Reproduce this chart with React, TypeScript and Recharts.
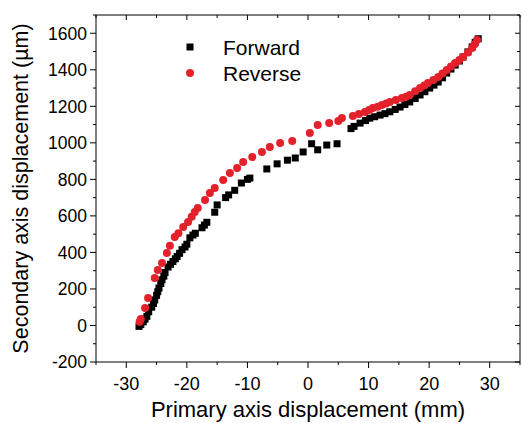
import { ScatterChart, Scatter, XAxis, YAxis, Legend, Label } from "recharts";

// Forward / reverse sweep, secondary axis vs primary axis displacement
const forwardX = [
  -27.9, -27.6, -27.2, -26.9, -26.6, -26.3, -25.8, -25.5, -25.3, -25.0, -24.8, -24.6, -24.3, -24.1,
  -23.8, -23.6, -23.1, -22.7, -22.3, -21.9, -21.6, -21.2, -20.8, -20.3, -20.0, -19.5, -19.0, -18.6,
  -17.5, -17.1, -16.7, -15.4, -15.0, -13.6, -13.1, -12.1, -11.0, -10.0, -9.6, -6.8, -5.1, -3.4,
  -2.1, -0.8, 0.6, 1.6, 3.1, 4.8, 7.1, 7.6, 8.6, 9.5, 10.2, 11.0, 11.9, 12.7, 13.5, 14.4, 15.2,
  16.0, 16.8, 17.7, 18.5, 19.3, 20.1, 20.8, 21.5, 22.2, 22.9, 23.6, 24.3, 25.0, 25.6, 26.4, 27.1,
  27.6, 28.1,
];
const forwardY = [
  -5, 5, 20, 35, 50, 75, 100, 120, 140, 165, 185, 205, 230, 250,
  270, 290, 320, 335, 350, 365, 378, 395, 415, 430, 445, 480, 495, 505,
  535, 550, 565, 620, 660, 700, 715, 740, 780, 800, 807, 857, 885, 905,
  917, 950, 995, 962, 988, 995, 1078, 1090, 1108, 1122, 1135, 1143, 1152, 1160, 1170, 1183, 1196,
  1210, 1224, 1243, 1262, 1280, 1300, 1316, 1333, 1356, 1382, 1404, 1426, 1448, 1470, 1498, 1525,
  1550, 1570,
];

const reverseX = [
  -27.8, -27.6, -26.9, -26.4, -25.3, -24.8, -24.1, -23.3, -22.8, -22.0, -21.4, -20.6, -19.8, -19.2,
  -18.7, -18.2, -17.0, -16.2, -15.4, -14.0, -12.9, -11.7, -10.7, -9.2, -7.6, -6.3, -4.6, -2.6,
  0.3, 1.6, 3.5, 5.0, 5.6, 7.4, 8.4, 9.4, 10.1, 10.7, 11.5, 12.2, 12.9, 13.5, 14.5, 15.5, 16.2,
  16.8, 17.7, 18.5, 19.2, 19.8, 20.7, 21.5, 22.2, 22.9, 23.6, 24.3, 25.0, 25.6, 26.4, 27.1, 27.5,
  27.9,
];
const reverseY = [
  20, 35, 96, 150, 260, 304, 342, 397, 437, 484, 505, 539, 566, 595,
  621, 643, 687, 725, 753, 796, 835, 862, 895, 922, 950, 977, 999, 1010,
  1054, 1098, 1109, 1120, 1136, 1147, 1158, 1169, 1180, 1191, 1198, 1207, 1215, 1224, 1235, 1245, 1253,
  1262, 1282, 1300, 1314, 1328, 1344, 1360, 1380, 1399, 1418, 1437, 1454, 1470, 1495, 1519, 1540,
  1563,
];

const xTicks = [-35, -30, -25, -20, -15, -10, -5, 0, 5, 10, 15, 20, 25, 30, 35];
const yTicks = [
  -200, -100, 0, 100, 200, 300, 400, 500, 600, 700, 800, 900, 1000, 1100, 1200, 1300, 1400, 1500,
  1600, 1700,
];

const forward = forwardX.map((x, i) => ({ x, y: forwardY[i] }));
const reverse = reverseX.map((x, i) => ({ x, y: reverseY[i] }));

const FONT = "'Liberation Sans', Arial, sans-serif";
const RED = "#e3212b";

const isMajorX = (v: number) => v % 10 === 0 && Math.abs(v) <= 30;
const isMajorY = (v: number) => v % 200 === 0 && v <= 1600;

function BottomTick({ x, y, payload }: any) {
  const major = isMajorX(payload.value);
  return (
    <g>
      <line x1={x} x2={x} y1={y} y2={y + (major ? 6 : 3)} stroke="#000" />
      {major && (
        <text x={x} y={y + 28} textAnchor="middle" fontSize={18} fontFamily={FONT} fill="#000">
          {payload.value}
        </text>
      )}
    </g>
  );
}

function TopTick({ x, y, payload }: any) {
  const major = isMajorX(payload.value);
  return <line x1={x} x2={x} y1={y} y2={y + (major ? 5 : 3)} stroke="#000" />;
}

function LeftTick({ x, y, payload }: any) {
  const major = isMajorY(payload.value);
  return (
    <g>
      <line x1={x - (major ? 6 : 3)} x2={x} y1={y} y2={y} stroke="#000" />
      {major && (
        <text x={x - 9} y={y} dy="0.36em" textAnchor="end" fontSize={17.5} fontFamily={FONT} fill="#000">
          {payload.value}
        </text>
      )}
    </g>
  );
}

function RightTick({ x, y, payload }: any) {
  const major = isMajorY(payload.value);
  return <line x1={x - (major ? 5 : 3)} x2={x} y1={y} y2={y} stroke="#000" />;
}

function Square(props: any) {
  const { cx, cy } = props;
  return <rect x={cx - 3.5} y={cy - 3.5} width={7} height={7} fill="#000" />;
}

function Dot(props: any) {
  const { cx, cy } = props;
  return <circle cx={cx} cy={cy} r={4} fill={RED} />;
}

function Nothing() {
  return <g />;
}

function LegendBox({ payload }: any) {
  const items = (payload || []).filter((p: any) => p.value === "Forward" || p.value === "Reverse");
  return (
    <svg width={160} height={56} style={{ display: "block" }}>
      {items.map((p: any, i: number) => {
        const cy = 13 + i * 26;
        return (
          <g key={p.value}>
            {p.value === "Forward" ? (
              <rect x={6.5} y={cy - 3.5} width={7} height={7} fill="#000" />
            ) : (
              <circle cx={10} cy={cy} r={4} fill={RED} />
            )}
            <text x={43} y={cy} dy="0.36em" fontSize={21} fontFamily={FONT} fill="#000">
              {p.value}
            </text>
          </g>
        );
      })}
    </svg>
  );
}

export default function App() {
  return (
    <div style={{ position: "absolute", left: 0, top: 0, width: 522, height: 423, background: "#fff" }}>
      <ScatterChart width={522} height={423} margin={{ top: 14, right: 1, bottom: 0, left: 0 }}>
        <XAxis
          xAxisId="b"
          dataKey="x"
          type="number"
          orientation="bottom"
          domain={[-35, 35]}
          ticks={xTicks}
          interval={0}
          height={61}
          tickSize={0}
          tickMargin={0}
          tickLine={false}
          tick={<BottomTick />}
          axisLine={{ stroke: "#000" }}
          allowDataOverflow
        >
          <Label
            content={({ viewBox }: any) => (
              <text
                x={viewBox.x + viewBox.width / 2}
                y={viewBox.y + 55}
                textAnchor="middle"
                fontSize={22}
                fontFamily={FONT}
                fill="#000"
              >
                Primary axis displacement (mm)
              </text>
            )}
          />
        </XAxis>
        <XAxis
          xAxisId="t"
          dataKey="x"
          type="number"
          orientation="top"
          domain={[-35, 35]}
          ticks={xTicks}
          interval={0}
          height={1}
          tickSize={0}
          tickMargin={0}
          tickLine={false}
          tick={<TopTick />}
          axisLine={{ stroke: "#000" }}
          allowDataOverflow
        />
        <YAxis
          yAxisId="l"
          dataKey="y"
          type="number"
          orientation="left"
          domain={[-200, 1700]}
          ticks={yTicks}
          interval={0}
          width={96}
          tickSize={0}
          tickMargin={0}
          tickLine={false}
          tick={<LeftTick />}
          axisLine={{ stroke: "#000" }}
          allowDataOverflow
        >
          <Label
            content={({ viewBox }: any) => {
              const cx = 28;
              const cy = viewBox.y + viewBox.height / 2;
              return (
                <text
                  x={cx}
                  y={cy}
                  transform={`rotate(-90 ${cx} ${cy})`}
                  textAnchor="middle"
                  fontSize={21.5}
                  fontFamily={FONT}
                  fill="#000"
                >
                  Secondary axis displacement (µm)
                </text>
              );
            }}
          />
        </YAxis>
        <YAxis
          yAxisId="r"
          dataKey="y"
          type="number"
          orientation="right"
          domain={[-200, 1700]}
          ticks={yTicks}
          interval={0}
          width={1}
          tickSize={0}
          tickMargin={0}
          tickLine={false}
          tick={<RightTick />}
          axisLine={{ stroke: "#000" }}
          allowDataOverflow
        />
        <Legend
          layout="vertical"
          align="center"
          verticalAlign="middle"
          content={<LegendBox />}
          wrapperStyle={{ left: 180, top: 34, width: 160, height: 56 }}
        />
        {/* invisible series so the top/right frame axes are drawn */}
        <Scatter
          name="frame"
          data={forward}
          xAxisId="t"
          yAxisId="r"
          shape={<Nothing />}
          legendType="none"
          isAnimationActive={false}
        />
        <Scatter
          name="Forward"
          data={forward}
          xAxisId="b"
          yAxisId="l"
          fill="#000"
          shape={<Square />}
          isAnimationActive={false}
        />
        <Scatter
          name="Reverse"
          data={reverse}
          xAxisId="b"
          yAxisId="l"
          fill={RED}
          shape={<Dot />}
          isAnimationActive={false}
        />
      </ScatterChart>
    </div>
  );
}
